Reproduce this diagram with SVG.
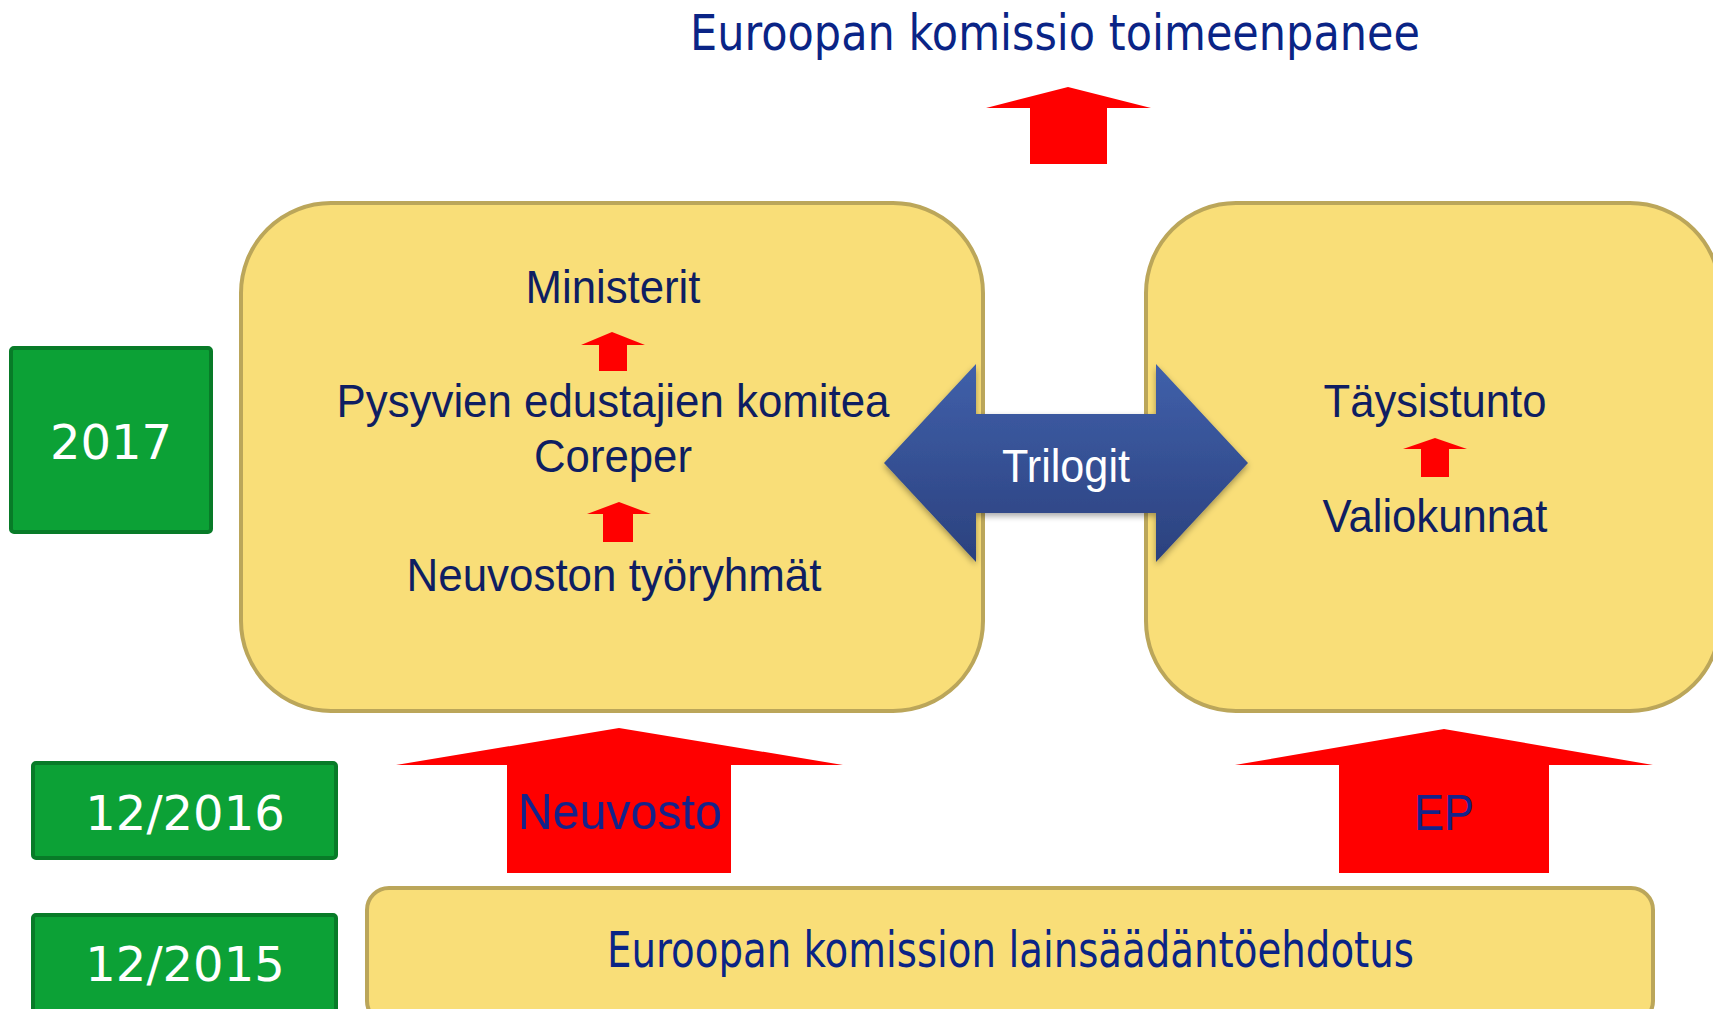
<svg xmlns="http://www.w3.org/2000/svg" width="1713" height="1009" viewBox="0 0 1713 1009">
  <defs>
    <linearGradient id="blueGrad" x1="0" y1="0" x2="0" y2="1">
      <stop offset="0" stop-color="#4060AA"/>
      <stop offset="1" stop-color="#2B417E"/>
    </linearGradient>
    <filter id="shadow" x="-10%" y="-10%" width="120%" height="130%">
      <feDropShadow dx="0" dy="3" stdDeviation="3" flood-color="#000" flood-opacity="0.35"/>
    </filter>
  </defs>
  <style>
    .panel { fill: #F9DE78; stroke: #BBA65A; stroke-width: 4; }
    .year { fill: #0CA136; stroke: #087B28; stroke-width: 4; }
    .yeartxt { font-family: "DejaVu Sans", Verdana, sans-serif; font-size: 48px; fill: #FFFFFF; text-anchor: middle; }
    .red { fill: #FF0000; }
    .inner { font-family: "Liberation Sans", Arial, sans-serif; font-size: 46px; fill: #0F1E62; text-anchor: middle; }
    .title { font-family: "DejaVu Sans", Tahoma, sans-serif; font-size: 50px; fill: #0A2486; }
    .armlbl { font-family: "Liberation Sans", Arial, sans-serif; font-size: 50px; fill: #13238A; text-anchor: middle; }
  </style>
  <rect width="1713" height="1009" fill="#FFFFFF"/>

  <g id="top-title">
    <text class="title" x="690" y="50" textLength="730" lengthAdjust="spacingAndGlyphs">Euroopan komissio toimeenpanee</text>
  </g>

  <g id="council-box">
    <rect class="panel" x="241" y="203" width="742" height="508" rx="90" ry="90"/>
    <text class="inner" x="613" y="303" textLength="175" lengthAdjust="spacingAndGlyphs">Ministerit</text>
    <text class="inner" x="613" y="417" textLength="553" lengthAdjust="spacingAndGlyphs">Pysyvien edustajien komitea</text>
    <text class="inner" x="613" y="472" textLength="158" lengthAdjust="spacingAndGlyphs">Coreper</text>
    <text class="inner" x="614" y="591" textLength="415" lengthAdjust="spacingAndGlyphs">Neuvoston työryhmät</text>
  </g>

  <g id="parliament-box">
    <rect class="panel" x="1146" y="203" width="574" height="508" rx="90" ry="90"/>
    <text class="inner" x="1435" y="417" textLength="223" lengthAdjust="spacingAndGlyphs">Täysistunto</text>
    <text class="inner" x="1435" y="532" textLength="225" lengthAdjust="spacingAndGlyphs">Valiokunnat</text>
  </g>

  <g id="proposal-box">
    <rect class="panel" x="367" y="888" width="1286" height="135" rx="22" ry="22"/>
    <text class="title" x="607" y="967" textLength="807" lengthAdjust="spacingAndGlyphs">Euroopan komission lainsäädäntöehdotus</text>
  </g>

  <g id="year-2017">
    <rect class="year" x="11" y="348" width="200" height="184" rx="3"/>
    <text class="yeartxt" x="111" y="459">2017</text>
  </g>
  <g id="year-2016">
    <rect class="year" x="33" y="763" width="303" height="95" rx="3"/>
    <text class="yeartxt" x="185" y="830">12/2016</text>
  </g>
  <g id="year-2015">
    <rect class="year" x="33" y="915" width="303" height="100" rx="3"/>
    <text class="yeartxt" x="185" y="981">12/2015</text>
  </g>

  <g id="trilogit">
    <polygon points="884,463 976,364 976,414 1156,414 1156,364 1248,463 1156,562 1156,513 976,513 976,562" fill="url(#blueGrad)" filter="url(#shadow)"/>
    <text x="1066" y="482" font-family="Liberation Sans, Arial, sans-serif" font-size="46" fill="#FFFFFF" text-anchor="middle" textLength="128" lengthAdjust="spacingAndGlyphs">Trilogit</text>
  </g>

  <g id="neuvosto-arrow">
    <polygon class="red" points="619,728 843,765 731,765 731,873 507,873 507,765 396,765"/>
    <text class="armlbl" x="620" y="829" textLength="204" lengthAdjust="spacingAndGlyphs">Neuvosto</text>
  </g>

  <g id="ep-arrow">
    <polygon class="red" points="1444,729 1653,765 1549,765 1549,873 1339,873 1339,765 1235,765"/>
    <text class="armlbl" x="1444" y="830" textLength="60" lengthAdjust="spacingAndGlyphs">EP</text>
  </g>

  <g id="connectors">
    <polygon class="red" points="1068,87 1151,108 1107,108 1107,164 1030,164 1030,108 986,108"/>
    <polygon class="red" points="612,332 645,345 627,345 627,371 599,371 599,345 581,345"/>
    <polygon class="red" points="619,502 651,514 633,514 633,542 603,542 603,514 587,514"/>
    <polygon class="red" points="1435,438 1467,449 1449,449 1449,477 1421,477 1421,449 1403,449"/>
  </g>
</svg>
